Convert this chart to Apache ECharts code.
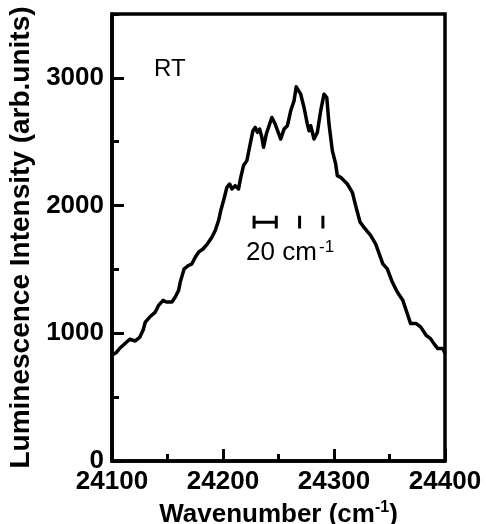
<!DOCTYPE html>
<html>
<head>
<meta charset="utf-8">
<script src="https://cdn.jsdelivr.net/npm/echarts@6/dist/echarts.min.js"></script>
<style>html,body{margin:0;padding:0;background:#fff}#c{width:486px;height:524px}</style>
</head>
<body>
<div id="c"></div>
<script>
const wavenumber = [24100,24101,24104,24107,24112,24116,24121,24125,24128,24130,24134,24139,24142,24146,24149,24154,24157,24160,24161.5,24165,24169,24172,24175,24178,24182,24186,24190,24193,24196,24198,24200.5,24202,24203.5,24206,24208,24211,24214,24216,24218.5,24221.5,24224.5,24227,24229,24231,24233,24235,24236.5,24239,24243,24244,24247,24252,24255,24258,24261,24264,24266,24270,24273,24276,24277.5,24279,24282,24285,24288,24291,24293.5,24295.5,24298.5,24301.5,24303,24306,24312,24316.5,24319.5,24323.5,24327,24333,24337.5,24344,24348,24352.5,24357,24362,24365,24369,24374,24378,24383,24387,24390,24393.5,24398,24400];
const intensity = [830,815,850,883,922,953,940,969,1023,1088,1127,1166,1219,1258,1245,1245,1284,1336,1401,1505,1531,1544,1596,1635,1660,1701,1752,1805,1883,1961,2039,2091,2143,2169,2130,2156,2130,2221,2313,2352,2482,2586,2612,2573,2599,2534,2456,2560,2664,2690,2638,2521,2599,2625,2742,2820,2930,2872,2768,2638,2586,2625,2521,2573,2742,2872,2846,2638,2430,2326,2234,2221,2169,2104,2000,1870,1830,1766,1700,1544,1505,1401,1323,1258,1180,1076,1076,1050,984,958,919,880,880,844];
// scale bar (20 cm-1) and peak markers
const scaleBarX = [24228, 24248];
const scaleBarY = 1870;
const markHalf = 50;
const peakMarksX = [24269, 24290];

const F = "'Liberation Sans', Arial, Helvetica, sans-serif";
const lineW = 3.5;

const segs = [];
segs.push([[scaleBarX[0], scaleBarY], [scaleBarX[1], scaleBarY]]);
scaleBarX.concat(peakMarksX).forEach(x => segs.push([[x, scaleBarY - markHalf], [x, scaleBarY + markHalf]]));

const series = [{
  type: 'line',
  data: wavenumber.map((x, i) => [x, intensity[i]]),
  symbol: 'none',
  lineStyle: {color: '#000', width: lineW, join: 'round'},
  z: 5
}];
segs.forEach(s => series.push({
  type: 'line', data: s, symbol: 'none',
  lineStyle: {color: '#000', width: 3}, z: 5
}));

const plain = v => String(v);

const chart = echarts.init(document.getElementById('c'), null, {renderer: 'canvas'});
chart.setOption({
  animation: false,
  backgroundColor: '#fff',
  grid: {left: 112, right: 41, top: 14, bottom: 63, outerBoundsMode: 'none', containLabel: false, show: true, borderColor: '#000', borderWidth: 3.5, backgroundColor: 'transparent'},
  xAxis: {
    type: 'value', min: 24100, max: 24400, interval: 100,
    axisLine: {lineStyle: {color: '#000', width: 3.5}},
    axisTick: {inside: true, length: 12, lineStyle: {color: '#000', width: 3}},
    minorTick: {show: true, splitNumber: 2, length: 7, lineStyle: {color: '#000', width: 3}},
    splitLine: {show: false},
    axisLabel: {color: '#000', fontSize: 26, fontWeight: 'bold', fontFamily: F, margin: 8, formatter: plain},
    name: '{b|Wavenumber (cm}{s|-1}{b|)}',
    nameLocation: 'middle', nameGap: 28,
    nameTextStyle: {
      rich: {
        b: {fontSize: 26, fontWeight: 'bold', fontFamily: F, color: '#000', lineHeight: 30},
        s: {fontSize: 16, fontWeight: 'bold', fontFamily: F, color: '#000', lineHeight: 19, verticalAlign: 'top'}
      }
    }
  },
  yAxis: [{
    type: 'value', min: 0, max: 3500, interval: 1000,
    axisLine: {lineStyle: {color: '#000', width: 3.5}},
    axisTick: {inside: true, length: 12, lineStyle: {color: '#000', width: 3}},
    splitLine: {show: false},
    axisLabel: {color: '#000', fontSize: 26, fontWeight: 'bold', fontFamily: F, margin: 8, showMaxLabel: false, formatter: plain},
    name: 'Luminescence Intensity (arb.units)',
    nameLocation: 'middle', nameGap: 72,
    nameTextStyle: {fontSize: 28, fontWeight: 'bold', fontFamily: F, color: '#000'}
  }, {
    type: 'value', min: 0, max: 3500, interval: 500, position: 'left',
    axisLine: {show: false},
    axisTick: {inside: true, length: 7, lineStyle: {color: '#000', width: 3}},
    axisLabel: {show: false},
    splitLine: {show: false}
  }],
  series: series,
  graphic: [
    {type: 'text', x: 154, y: 69, style: {text: 'RT', fontSize: 24, fontFamily: F, fill: '#000', align: 'left', verticalAlign: 'middle'}},
    {type: 'text', x: 246, y: 253, style: {text: '20 cm', fontSize: 26, fontFamily: F, fill: '#000', align: 'left', verticalAlign: 'middle'}},
    {type: 'text', x: 319, y: 247, style: {text: '-1', fontSize: 17, fontFamily: F, fill: '#000', align: 'left', verticalAlign: 'middle'}}
  ]
});
</script>
</body>
</html>
